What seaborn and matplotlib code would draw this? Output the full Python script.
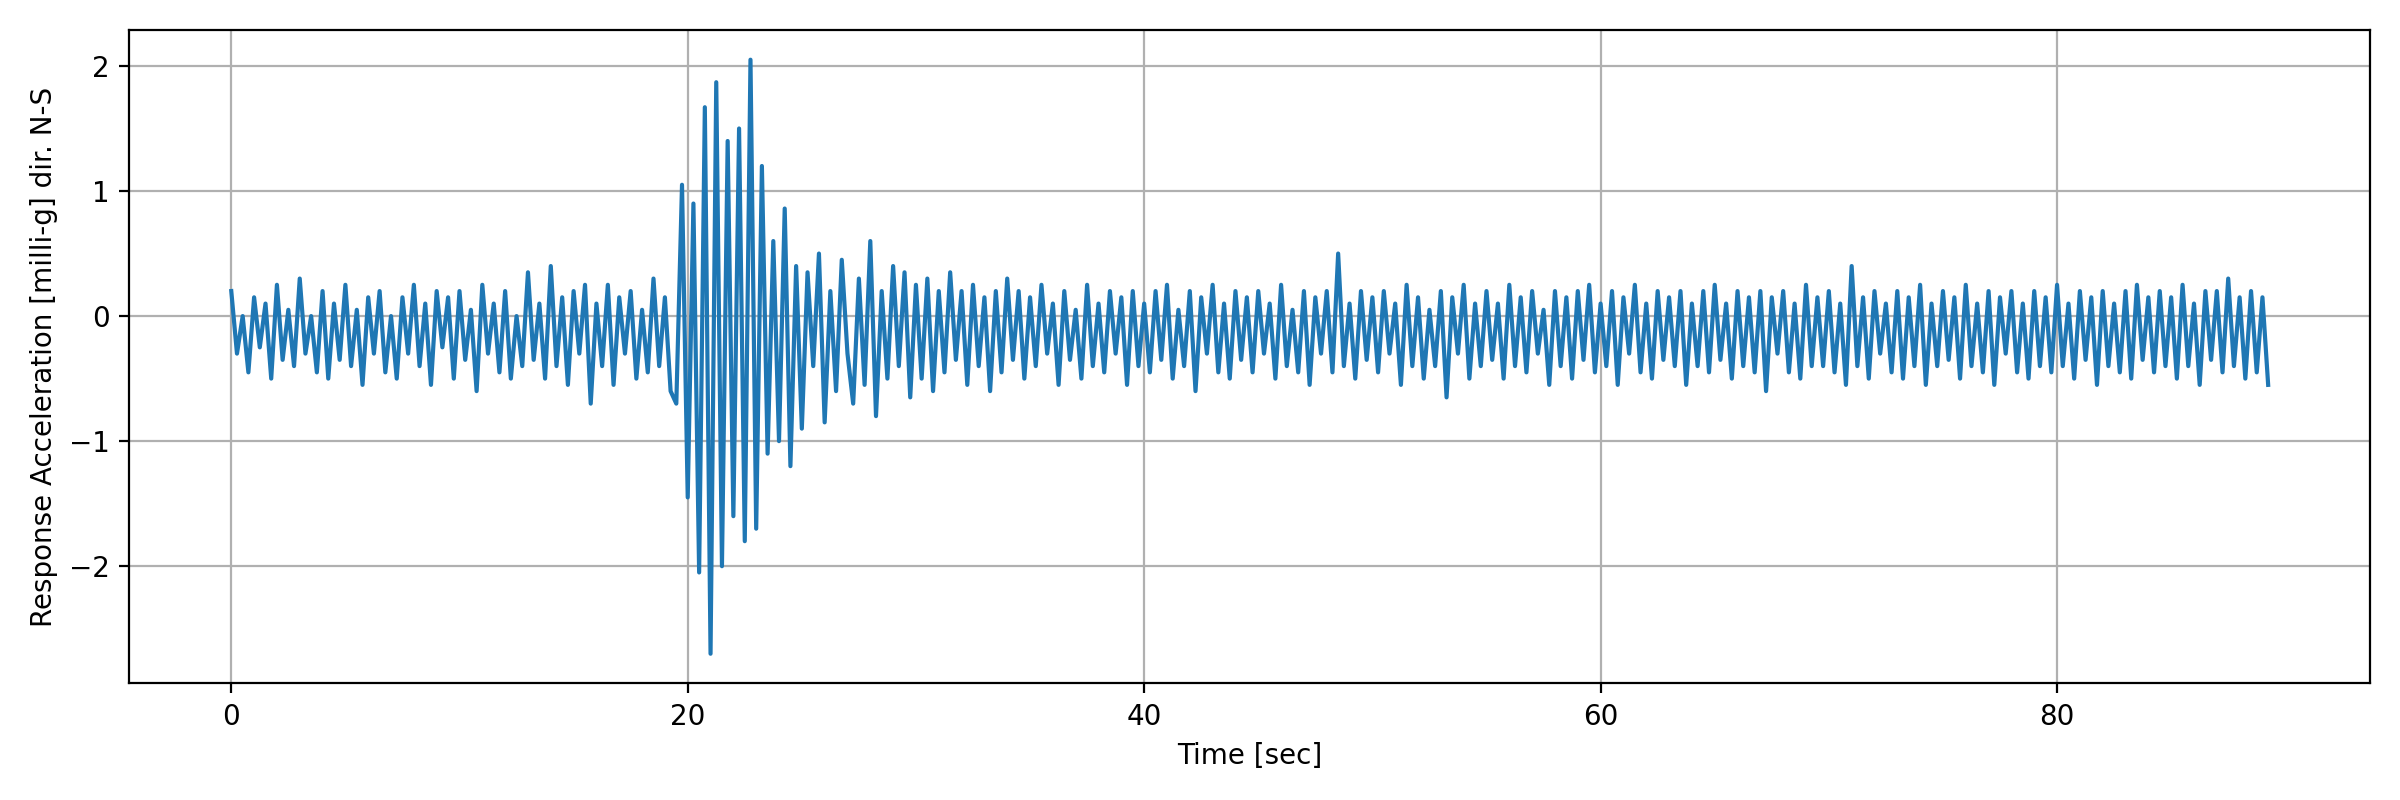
import numpy as np
import pandas as pd
import seaborn as sns
import matplotlib
matplotlib.use("Agg")
import matplotlib.pyplot as plt

# values (milli-g), approximate peaks/troughs, 0.25 s apart
seg_pre = [0.3,-0.2,0.1,-0.35,0.25,-0.15,0.2,-0.4,0.35,-0.25,0.15,-0.3,0.4,-0.2,0.1,-0.35,0.3,-0.4,0.2,-0.25,
           0.35,-0.3,0.15,-0.45,0.25,-0.2,0.3,-0.35,0.1,-0.4,0.25,-0.2,0.35,-0.3,0.2,-0.45,0.3,-0.15,0.25,-0.4,
           0.3,-0.25,0.15,-0.5,0.35,-0.2,0.2,-0.35,0.3,-0.4,0.1,-0.3,0.45,-0.25,0.2,-0.4,0.5,-0.3,0.25,-0.45,
           0.3,-0.2,0.35,-0.6,0.2,-0.3,0.35,-0.45,0.25,-0.2,0.3,-0.4,0.15,-0.35,0.4,-0.3,0.25,-0.5]
seg_event = [-0.6,1.15,-1.35,1.0,-1.95,1.77,-2.6,1.97,-1.9,1.5,-1.5,1.6,-1.7,2.15,-1.6,1.3,
             -1.0,0.7,-0.9,0.96,-1.1,0.5]
seg_post = [-0.8,0.45,-0.3,0.6,-0.75,0.3,-0.5,0.55,-0.2,-0.6,0.4,-0.45,0.7,-0.7,0.3,-0.4,0.5,-0.3,0.45,-0.55,
            0.35,-0.4,0.4,-0.5,0.3,-0.35,0.45,-0.25,0.3,-0.45,0.35,-0.3,0.25,-0.5,0.3,-0.35,0.4,-0.25,0.3,-0.4,
            0.25,-0.3,0.35,-0.2,0.2,-0.45,0.3,-0.25,0.15,-0.4,0.35,-0.3,0.2,-0.35,0.3,-0.2,0.25,-0.45,0.3,-0.3,
            0.2,-0.35,0.3,-0.25,0.35,-0.4,0.15,-0.3,0.3,-0.5,0.25,-0.2,0.35,-0.35,0.2,-0.4,0.3,-0.25,0.25,-0.35,
            0.3,-0.2,0.2,-0.4,0.35,-0.3,0.15,-0.35,0.3,-0.45,0.25,-0.2,0.3,-0.35,0.6,-0.3,0.2,-0.4,0.3,-0.25,
            0.25,-0.35,0.3,-0.2,0.2,-0.45,0.35,-0.3,0.25,-0.4,0.15,-0.3,0.3,-0.55,0.25,-0.2,0.35,-0.4,0.2,-0.3,
            0.3,-0.25,0.2,-0.4,0.35,-0.3,0.25,-0.35,0.3,-0.2,0.15,-0.45,0.3,-0.3,0.25,-0.4,0.3,-0.25,0.35,-0.35,
            0.2,-0.3,0.3,-0.45,0.25,-0.2,0.35,-0.35,0.2,-0.4,0.3,-0.25,0.25,-0.3,0.3,-0.45,0.2,-0.3,0.3,-0.35,
            0.35,-0.25,0.2,-0.4,0.3,-0.3,0.25,-0.35,0.3,-0.5,0.25,-0.2,0.3,-0.35,0.2,-0.4,0.35,-0.3,0.25,-0.3,
            0.3,-0.35,0.2,-0.45,0.5,-0.3,0.25,-0.4,0.3,-0.2,0.2,-0.35,0.3,-0.4,0.25,-0.3,0.35,-0.45,0.2,-0.3,
            0.3,-0.25,0.25,-0.4,0.35,-0.3,0.2,-0.35,0.3,-0.45,0.25,-0.2,0.3,-0.35,0.2,-0.4,0.3,-0.3,0.25,-0.35,
            0.35,-0.3,0.2,-0.4,0.3,-0.25,0.25,-0.45,0.3,-0.3,0.2,-0.35,0.3,-0.4,0.35,-0.25,0.25,-0.35,0.3,-0.3,
            0.25,-0.4,0.35,-0.3,0.2,-0.45,0.3,-0.25,0.3,-0.35,0.4,-0.3,0.25,-0.4,0.3,-0.35,0.25,-0.45]

t_pre = 0.25 * np.arange(len(seg_pre))
t_event = 19.5 + 0.25 * np.arange(len(seg_event))
t_post = 25.0 + 0.25 * np.arange(len(seg_post))

df = pd.DataFrame({
    "t": np.concatenate([t_pre, t_event, t_post]),
    "a": np.concatenate([seg_pre, seg_event, seg_post]) - 0.1,
})

fig, ax = plt.subplots(figsize=(12, 4), dpi=200)
sns.lineplot(data=df, x="t", y="a", ax=ax, color="#1f77b4", linewidth=1.5, estimator=None, sort=False)
ax.grid(True, color="#b0b0b0", linewidth=0.8)
ax.set_xlabel("Time [sec]")
ax.set_ylabel("Response Acceleration [milli-g] dir. N-S")
ax.set_xticks([0, 20, 40, 60, 80])
ax.set_yticks([-2, -1, 0, 1, 2])
fig.tight_layout()
fig.savefig("out.png", dpi=200)
